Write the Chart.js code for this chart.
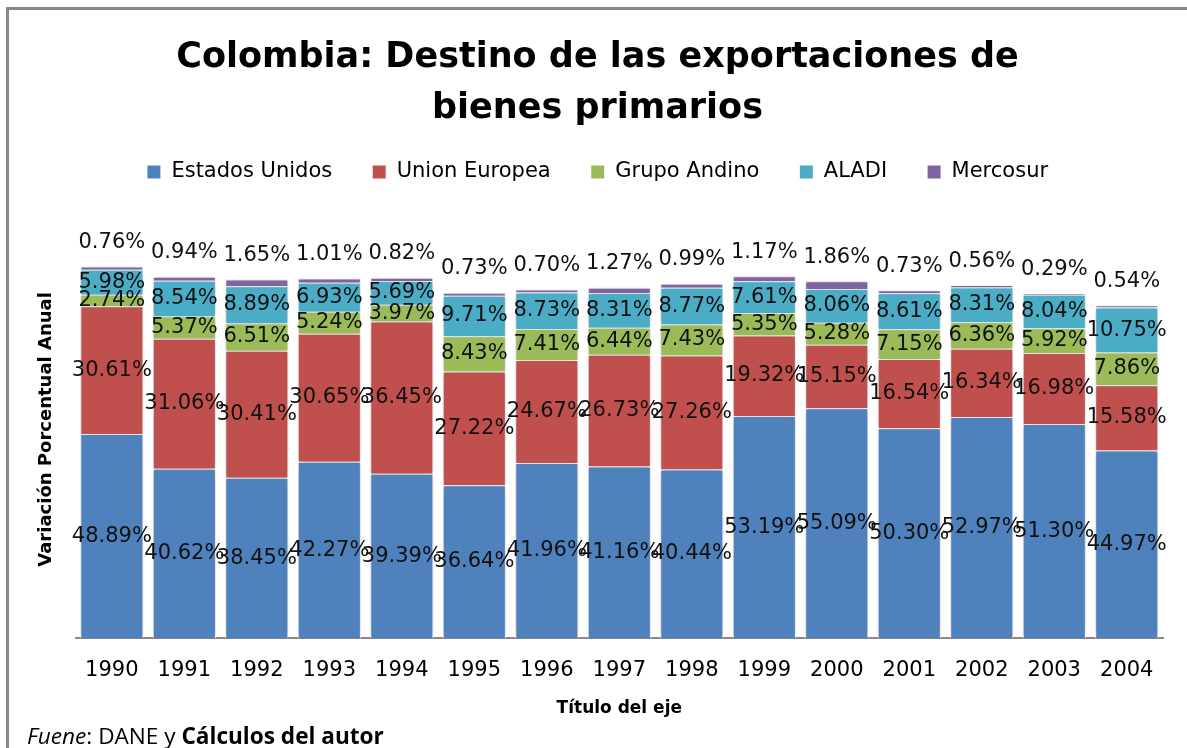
<!DOCTYPE html>
<html>
<head>
<meta charset="utf-8">
<script src="https://cdn.jsdelivr.net/npm/chart.js@4/dist/chart.umd.min.js"></script>
<style>
  body { margin: 0; background: #fff; }
  #wrap { position: relative; width: 1187px; height: 748px; }
  #frame { position: absolute; left: 6px; top: 7px; right: 0; bottom: 0;
           border-top: 3px solid #888; border-left: 3px solid #888; }
  #fuente { position: absolute; left: 27px; top: 720px; font-family: "Open Sans", sans-serif;
            font-size: 22.6px; color: #000; white-space: nowrap; }
</style>
</head>
<body>
<div id="wrap">
  <div id="frame"></div>
  <canvas id="chart"></canvas>
  <div id="fuente"><i>Fuene</i>: DANE y <b>Cálculos del autor</b></div>
</div>
<script>
// data
var years = ['1990','1991','1992','1993','1994','1995','1996','1997','1998','1999','2000','2001','2002','2003','2004'];
var estadosUnidos = [48.89, 40.62, 38.45, 42.27, 39.39, 36.64, 41.96, 41.16, 40.44, 53.19, 55.09, 50.30, 52.97, 51.30, 44.97];
var unionEuropea  = [30.61, 31.06, 30.41, 30.65, 36.45, 27.22, 24.67, 26.73, 27.26, 19.32, 15.15, 16.54, 16.34, 16.98, 15.58];
var grupoAndino   = [2.74, 5.37, 6.51, 5.24, 3.97, 8.43, 7.41, 6.44, 7.43, 5.35, 5.28, 7.15, 6.36, 5.92, 7.86];
var aladi         = [5.98, 8.54, 8.89, 6.93, 5.69, 9.71, 8.73, 8.31, 8.77, 7.61, 8.06, 8.61, 8.31, 8.04, 10.75];
var mercosur      = [0.76, 0.94, 1.65, 1.01, 0.82, 0.73, 0.70, 1.27, 0.99, 1.17, 1.86, 0.73, 0.56, 0.29, 0.54];

var lblFont = '21px "DejaVu Sans"';

function ds(label, data, color) {
  return {
    label: label,
    data: data,
    backgroundColor: color,
    borderColor: '#fff',
    borderWidth: 1,
    barPercentage: 0.87,
    categoryPercentage: 1
  };
}

// extra room under the legend
var legendGap = {
  id: 'legendGap',
  beforeInit: function(chart) {
    var fit = chart.legend.fit;
    chart.legend.fit = function() {
      fit.bind(chart.legend)();
      this.height += 28;
    };
  }
};

// shadow under bars + value labels
var barLabels = {
  id: 'barLabels',
  beforeDatasetsDraw: function(chart) {
    var ctx = chart.ctx;
    ctx.save();
    ctx.shadowColor = 'rgba(0,0,0,0.3)';
    ctx.shadowBlur = 7;
  },
  afterDatasetsDraw: function(chart) {
    var ctx = chart.ctx;
    ctx.restore();
    ctx.save();
    ctx.font = lblFont;
    ctx.fillStyle = '#111';
    ctx.textAlign = 'center';
    ctx.textBaseline = 'middle';
    chart.data.datasets.forEach(function(d, i) {
      var meta = chart.getDatasetMeta(i);
      meta.data.forEach(function(bar, j) {
        var p = bar.getProps(['x', 'y', 'base'], true);
        var y = (i === 4) ? p.y - 24 : (p.y + p.base) / 2;
        ctx.fillText(d.data[j].toFixed(2) + '%', p.x, y);
      });
    });
    ctx.restore();
  }
};

new Chart(document.getElementById('chart'), {
  type: 'bar',
  data: {
    labels: years,
    datasets: [
      ds('Estados Unidos', estadosUnidos, '#4F81BD'),
      ds('Union Europea', unionEuropea, '#C0504D'),
      ds('Grupo Andino', grupoAndino, '#9BBB59'),
      ds('ALADI', aladi, '#4BACC6'),
      ds('Mercosur', mercosur, '#8064A2')
    ]
  },
  options: {
    responsive: true,
    maintainAspectRatio: false,
    animation: false,
    layout: { padding: { left: 32, right: 24, top: 33, bottom: 25 } },
    plugins: {
      title: {
        display: true,
        text: ['Colombia: Destino de las exportaciones de', 'bienes primarios'],
        color: '#000',
        font: { family: 'DejaVu Sans', size: 35, weight: 'bold', lineHeight: 1.45 },
        padding: { top: 0, bottom: -13 }
      },
      legend: {
        position: 'top',
        labels: {
          color: '#000',
          font: { family: 'DejaVu Sans', size: 21 },
          boxWidth: 14,
          boxHeight: 14,
          padding: 40
        }
      },
      tooltip: { enabled: false }
    },
    scales: {
      x: {
        stacked: true,
        grid: { display: false },
        border: { color: '#888', width: 2 },
        ticks: { color: '#000', font: { family: 'DejaVu Sans', size: 21 }, padding: 12 },
        title: {
          display: true,
          text: 'Título del eje',
          color: '#000',
          font: { family: 'DejaVu Sans', size: 17, weight: 'bold' },
          padding: { top: 3 }
        }
      },
      y: {
        stacked: true,
        min: 0,
        max: 100,
        grid: { display: false },
        border: { display: false },
        ticks: { display: false },
        title: {
          display: true,
          text: 'Variación Porcentual Anual',
          color: '#000',
          font: { family: 'DejaVu Sans', size: 18, weight: 'bold' },
          padding: { bottom: 10 }
        }
      }
    }
  },
  plugins: [legendGap, barLabels]
});
</script>
</body>
</html>
